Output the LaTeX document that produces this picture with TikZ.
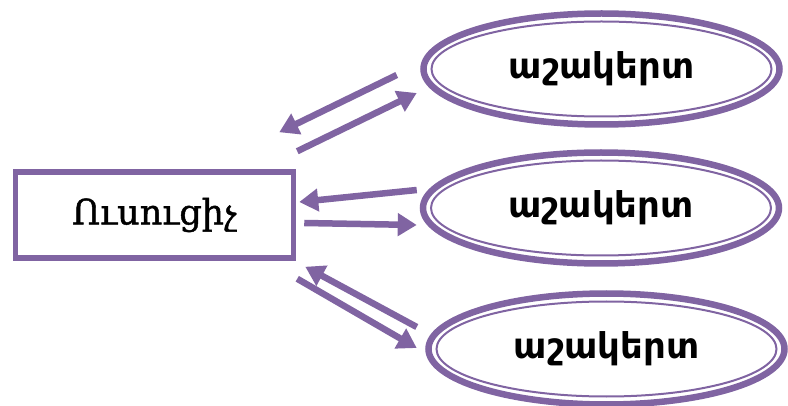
\documentclass[tikz,border=0pt]{standalone}
\usepackage{fontspec}
\usetikzlibrary{shapes.geometric,arrows.meta,calc}
\newfontfamily\armserif[FakeBold=1.3]{DejaVu Serif}
\newfontfamily\armsans{DejaVu Sans}
\definecolor{lav}{RGB}{128,100,162}
\begin{document}
\begin{tikzpicture}[x=1pt,y=-1pt,
  teacherbox/.style={draw=lav,line width=5.5pt,minimum width=278pt,minimum height=86pt,inner sep=0pt,
    font=\armserif\fontsize{35}{40}\selectfont},
  pupil/.style={draw=lav,line width=6.5pt,ellipse,minimum width=356pt,minimum height=111pt,inner sep=0pt,
    font=\armsans\bfseries\fontsize{35.5}{40}\selectfont},
  innerring/.style={draw=lav,line width=2pt},
  link/.style={draw=lav,line width=6.5pt,-{Triangle[length=19pt,width=22pt]}}]
\useasboundingbox (0,0) rectangle (788,406);
\node[teacherbox] (t) at (154.5,215) {Ուսուցիչ};
\node[pupil] (e1) at (601.5,69) {աշակերտ};
\node[pupil] (e2) at (601,208) {աշակերտ};
\node[pupil] (e3) at (606.5,349) {աշակերտ};
\foreach \e in {e1,e2,e3}
  \draw[innerring] (\e.center) ellipse [x radius=170pt, y radius=47.5pt];
% top pair
\draw[link] ($(e1.west)+(-23.5,6)$) -- ($(t.north east)+(-17,-37)$);
\draw[link] ($(t.north east)+(1,-18)$) -- ($(e1.west)+(-3.5,24)$);
% middle pair
\draw[link] ($(e2.west)+(-3,-18)$) -- ($(t.east)+(3,-13)$);
\draw[link] ($(t.east)+(8,8)$) -- ($(e2.west)+(-3,17)$);
% bottom pair
\draw[link] ($(e3.west)+(-8.5,-22)$) -- ($(t.south east)+(9,6)$);
\draw[link] ($(t.south east)+(1,18)$) -- ($(e3.west)+(-8.5,-1)$);
\end{tikzpicture}
\end{document}
